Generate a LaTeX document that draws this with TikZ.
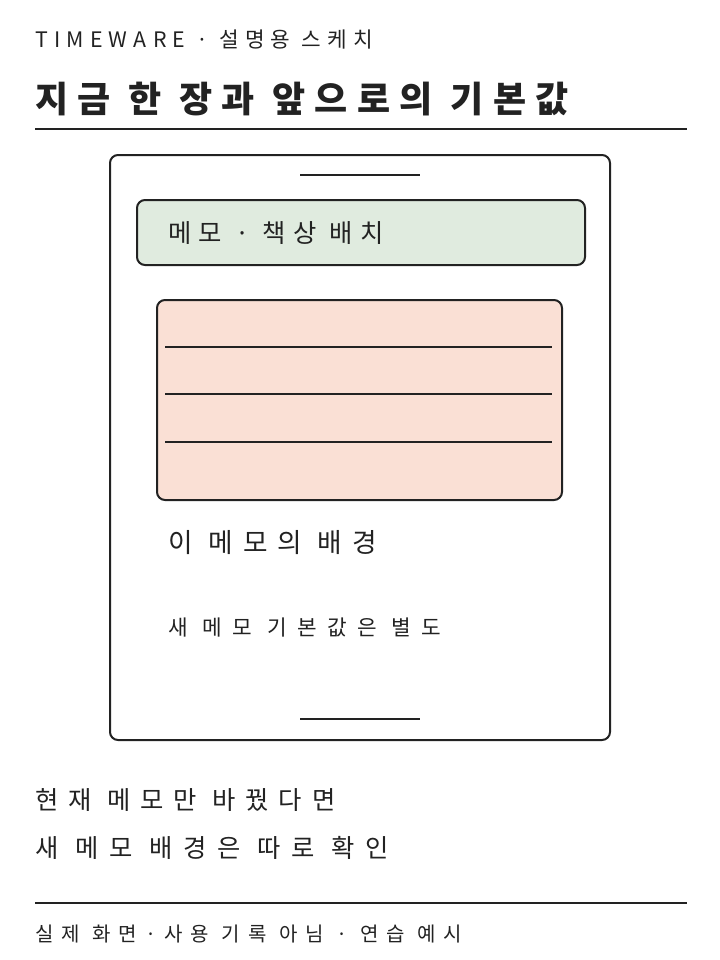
\documentclass[tikz,border=0pt]{standalone}
\usepackage{fontspec}
\usepackage{tikz}
\usepackage{xcolor}
\setmainfont{Noto Sans CJK KR}
\newfontfamily\handfont{Noto Sans CJK KR}
\newcommand{\hand}[2]{\handfont\fontsize{#1}{#1}\selectfont\addfontfeatures{LetterSpace=#2}}
\definecolor{inkline}{HTML}{222222}
\definecolor{deskgreen}{HTML}{E0EBDF}
\definecolor{memopink}{HTML}{FAE0D5}
\usetikzlibrary{positioning}
\tikzset{
	sketch/.style={draw=inkline,line width=1.5pt,rounded corners=6pt},
	rule/.style={draw=inkline,line width=1.3pt},
	txt/.style={anchor=west,inner sep=0pt,text=inkline},
}

\begin{document}
\begin{tikzpicture}[x=0.75pt,y=-0.75pt]
\useasboundingbox (0,0) rectangle (720,960);

% header
\node[txt,font=\hand{16}{29}] (kicker) at (35,40) {TIMEWARE · 설명용 스케치};
\node[txt,font=\hand{27}{26}\bfseries] (title) at (35,99) {지금 한 장과 앞으로의 기본값};
\draw[rule] (35,129) -- (687,129);

% card
\draw[sketch] (110,155) rectangle (610,740);
\draw[rule] (300,175) -- (420,175);
\draw[sketch,fill=deskgreen] (137,200) rectangle (585,265);
\node[txt,font=\hand{19}{29}] (place) at (168,233) {메모 · 책상 배치};
\draw[sketch,fill=memopink] (157,300) rectangle (562,500);
\draw[rule] (165,347) -- (552,347);
\draw[rule] (165,394) -- (552,394);
\draw[rule] (165,442) -- (552,442);
\node[txt,font=\hand{20}{37}] (bg) at (168,543) {이 메모의 배경};
\node[txt,font=\hand{16}{48}] (newdef) at (168,628) {새 메모 기본값은 별도};
\draw[rule] (300,719) -- (420,719);

% notes
\node[txt,font=\hand{19}{39}] (note1) at (35,800) {현재 메모만 바꿨다면};
\node[txt,font=\hand{19}{43}] (note2) at (35,848) {새 메모 배경은 따로 확인};
\draw[rule] (35,903) -- (687,903);
\node[txt,font=\hand{15}{40}] (foot) at (35,934) {실제 화면·사용 기록 아님 · 연습 예시};

\end{tikzpicture}
\end{document}
